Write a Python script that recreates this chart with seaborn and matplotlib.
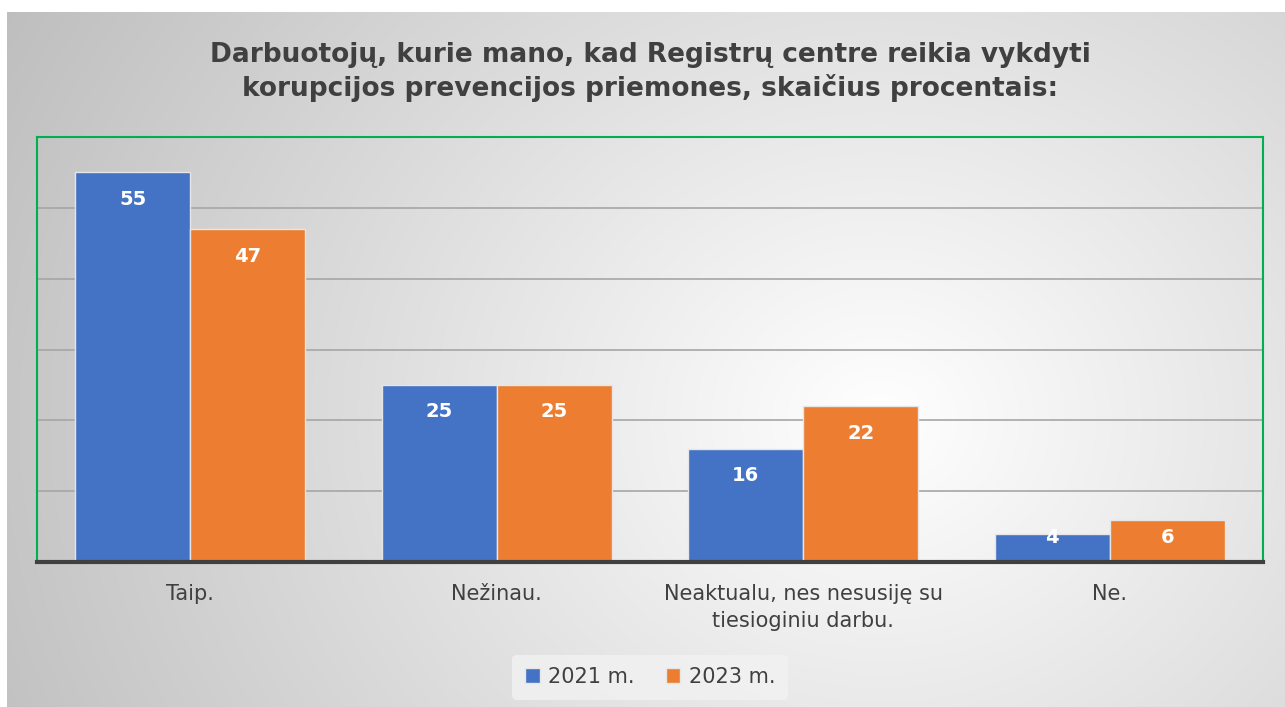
"""Registrų centras survey: anti-corruption measures, grouped bar chart."""

import matplotlib.pyplot as plt
import numpy as np
import pandas as pd
import seaborn as sns

CATEGORIES = ["Taip.", "Nežinau.", "Neaktualu, nes nesusiję su\ntiesioginiu darbu.", "Ne."]
YEARS = ["2021 m.", "2023 m."]
VALUES_2021 = [55, 25, 16, 4]
VALUES_2023 = [47, 25, 22, 6]

TITLE = ("Darbuotojų, kurie mano, kad Registrų centre reikia vykdyti\n"
         "korupcijos prevencijos priemones, skaičius procentais:")
COLORS = ["#4472C4", "#ED7D31"]
TEXT = "#404040"

W, H = 1285, 707

df = pd.DataFrame({
    "category": CATEGORIES * 2,
    "year": [YEARS[0]] * 4 + [YEARS[1]] * 4,
    "value": VALUES_2021 + VALUES_2023,
})

sns.set_theme(style="white")
plt.rcParams["font.family"] = ["DejaVu Sans"]

fig = plt.figure(figsize=(W / 100, H / 100), dpi=100)

# radial grey background behind the whole chart box
bg = fig.add_axes([0, 0, 1, 1], zorder=-2)
yy, xx = np.mgrid[0:H, 0:W]
d = np.hypot(xx - 880, (yy - 420) * 1.15)
shade = np.clip(1.0 - 0.25 * d / 980, 0.74, 1.0)
img = np.dstack([shade] * 3)
img[:12, :] = 1.0
img[:, :7] = 1.0
bg.imshow(img, extent=(0, W, H, 0), aspect="auto", interpolation="bilinear")
bg.set_axis_off()

ax = fig.add_axes([37 / W, 1 - 562 / H, (1263 - 37) / W, (562 - 137) / H])
ax.patch.set_alpha(0)

sns.barplot(
    data=df, x="category", y="value", hue="year",
    palette=COLORS, saturation=1, width=0.75, ax=ax,
    edgecolor="#e6e6e6", linewidth=1, zorder=3,
)

ax.set_ylim(0, 60)
ax.set_xlim(-0.5, len(CATEGORIES) - 0.5)
ax.set_yticks(range(10, 60, 10))
ax.yaxis.grid(True, color="#a6a6a6", linewidth=1.2, zorder=0)
ax.set_axisbelow(True)
ax.tick_params(axis="y", left=False, labelleft=False)
ax.tick_params(axis="x", bottom=False, pad=10, labelsize=15, labelcolor=TEXT)
for lbl in ax.get_xticklabels():
    lbl.set_linespacing(1.45)
ax.set_xlabel("")
ax.set_ylabel("")

for side in ["left", "right", "top"]:
    ax.spines[side].set_color("#00B050")
    ax.spines[side].set_linewidth(1.5)
ax.spines["bottom"].set_color(TEXT)
ax.spines["bottom"].set_linewidth(3)
ax.spines["bottom"].set_zorder(5)

for cont in ax.containers:
    for bar, v in zip(cont, cont.datavalues):
        ax.text(
            bar.get_x() + bar.get_width() / 2, max(v - 3.8, 3.5), f"{v:.0f}",
            ha="center", va="center", color="white",
            fontsize=14, fontweight="bold", zorder=6,
        )

leg = ax.legend(
    loc="center", bbox_to_anchor=(0.5, (562 - 677) / (562 - 137)),
    ncol=2, frameon=True, fontsize=15, handlelength=0.7, handleheight=0.7,
    handletextpad=0.4, columnspacing=1.5, borderpad=0.6,
)
leg.get_frame().set_facecolor("#f2f2f2")
leg.get_frame().set_edgecolor("none")
leg.get_frame().set_alpha(0.8)
for t in leg.get_texts():
    t.set_color(TEXT)

fig.text(650 / W, 1 - 72 / H, TITLE, ha="center", va="center",
         fontsize=19, fontweight="bold", color=TEXT, linespacing=1.25)

fig.savefig("out.png", dpi=100)
